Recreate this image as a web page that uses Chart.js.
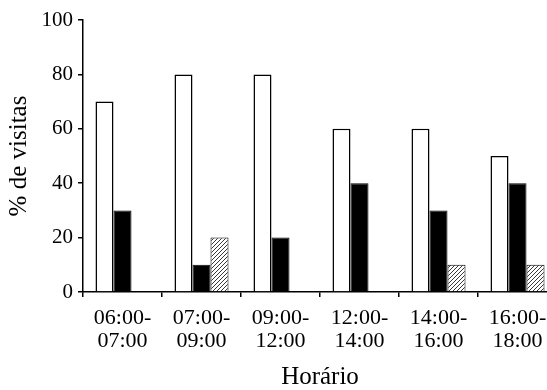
<!DOCTYPE html>
<html>
<head>
<meta charset="utf-8">
<script src="https://cdn.jsdelivr.net/npm/chart.js@4/dist/chart.umd.min.js"></script>
<style>
  html, body { margin: 0; padding: 0; overflow: hidden; background: #fff; }
  #wrap { width: 560px; height: 390px; }
</style>
</head>
<body>
<div id="wrap"><canvas id="grafico" width="560" height="390"></canvas></div>
<script>
// horarios (eixo x)
var horarios = [
    ['06:00-', '07:00'],
    ['07:00-', '09:00'],
    ['09:00-', '12:00'],
    ['12:00-', '14:00'],
    ['14:00-', '16:00'],
    ['16:00-', '18:00']
];
// % de visitas por serie
var serieBranca = [70, 80, 80, 60, 60, 50];
var seriePreta  = [30, 10, 20, 40, 30, 40];
var serieHachurada = [0, 20, 0, 0, 10, 10];

var fonte = 'Liberation Serif, Times New Roman, serif';

// padrao hachurado "/"
function hachura() {
    var c = document.createElement('canvas');
    c.width = 4; c.height = 4;
    var g = c.getContext('2d');
    g.fillStyle = '#fff';
    g.fillRect(0, 0, 4, 4);
    g.strokeStyle = '#222';
    g.lineWidth = 0.9;
    g.beginPath();
    g.moveTo(-1, 5); g.lineTo(5, -1);
    g.moveTo(-1, 1); g.lineTo(1, -1);
    g.moveTo(3, 5); g.lineTo(5, 3);
    g.stroke();
    return g.createPattern(c, 'repeat');
}

var ctx = document.getElementById('grafico').getContext('2d');
var grafico = new Chart(ctx, {
    type: 'bar',
    data: {
        labels: horarios,
        datasets: [{
            data: serieBranca,
            backgroundColor: '#fff',
            borderColor: '#000',
            borderWidth: 1.5
        }, {
            data: seriePreta,
            backgroundColor: '#000',
            borderColor: '#000',
            borderWidth: 1
        }, {
            data: serieHachurada,
            backgroundColor: hachura(),
            borderColor: '#000',
            borderWidth: 1
        }]
    },
    options: {
        responsive: false,
        animation: false,
        devicePixelRatio: 1,
        layout: { padding: { left: 0, right: 3, top: 20, bottom: 0 } },
        plugins: {
            legend: { display: false },
            tooltip: { enabled: false }
        },
        datasets: {
            bar: { categoryPercentage: 0.684, barPercentage: 1 }
        },
        scales: {
            x: {
                grid: { drawOnChartArea: false, drawTicks: true, tickLength: 5, color: '#000', lineWidth: 1.5 },
                border: { display: true, color: '#000', width: 1.5 },
                ticks: {
                    color: '#000',
                    maxRotation: 0,
                    autoSkip: false,
                    padding: 9,
                    font: { family: fonte, size: 22, lineHeight: 1.07 }
                },
                title: {
                    display: true,
                    text: 'Horário',
                    color: '#000',
                    padding: { top: 0, bottom: 0 },
                    font: { family: fonte, size: 25, lineHeight: 1 }
                },
                afterFit: function (scale) { scale.height = 98; }
            },
            y: {
                min: 0,
                max: 100,
                grid: { drawOnChartArea: false, drawTicks: true, tickLength: 5, color: '#000', lineWidth: 1.5 },
                border: { display: true, color: '#000', width: 1.5 },
                ticks: {
                    stepSize: 20,
                    color: '#000',
                    padding: 5,
                    font: { family: fonte, size: 21 }
                },
                title: {
                    display: true,
                    text: '% de visitas',
                    color: '#000',
                    padding: { top: 4, bottom: 0 },
                    font: { family: fonte, size: 25, lineHeight: 1.2 }
                },
                afterFit: function (scale) { scale.width = 83; }
            }
        }
    }
});
</script>
</body>
</html>
